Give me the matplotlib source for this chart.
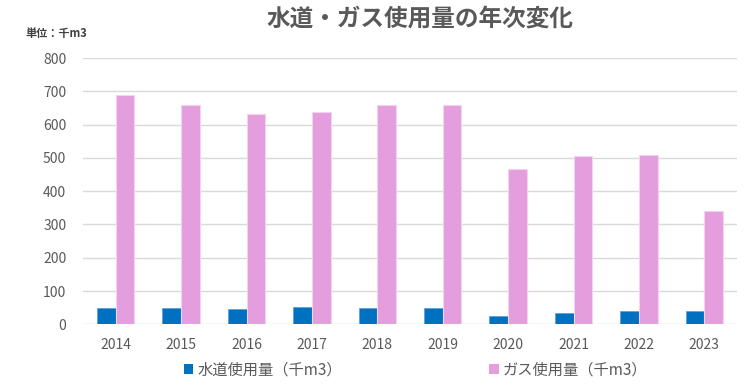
import matplotlib
matplotlib.use("Agg")
import matplotlib.pyplot as plt
import numpy as np

plt.rcParams['font.family'] = ['Noto Sans CJK JP', 'DejaVu Sans']

years = ["2014", "2015", "2016", "2017", "2018", "2019", "2020", "2021", "2022", "2023"]
water = [49, 49, 46, 52, 49, 49, 26, 34, 40, 40]
gas = [689, 660, 632, 637, 658, 658, 466, 506, 509, 340]
series_names = ["水道使用量（千m3）", "ガス使用量（千m3）"]
yticks = [0, 100, 200, 300, 400, 500, 600, 700, 800]

fig = plt.figure(figsize=(7.52, 3.91), dpi=100)
ax = fig.add_axes([83/752, 1-324.3/391, (737-83)/752, (324.3-58)/391])

x = np.arange(len(years))
w = 0.285
c_water = "#0070C0"
c_gas = "#E49EDD"
ax.bar(x - w/2, water, width=w, color=c_water, edgecolor="#5b9bd5", linewidth=0.5, zorder=3)
ax.bar(x + w/2, gas, width=w, color=c_gas, edgecolor="#f3d3ef", linewidth=0.8, zorder=3)

ax.set_xlim(-0.5, len(years) - 0.5)
ax.set_ylim(0, 800)
ax.set_yticks(yticks)
ax.set_yticklabels([str(v) for v in yticks])
ax.set_xticks(x)
ax.set_xticklabels(years)
ax.grid(axis='y', color="#d9d9d9", linewidth=1.0, zorder=0)
for s in ax.spines.values():
    s.set_visible(False)
ax.tick_params(axis='both', length=0, labelsize=10, colors="#595959")
ax.tick_params(axis='y', pad=12)
ax.tick_params(axis='x', pad=10)

fig.text(420/752, 1-20/391, "水道・ガス使用量の年次変化", ha='center', va='center',
         fontsize=17, fontweight='bold', color="#595959")
fig.text(25/752, 1-33/391, "単位：千m3", ha='left', va='center', fontsize=8,
         fontweight='bold', color="#404040")

# legend
from matplotlib.patches import Patch
handles = [Patch(facecolor=c_water), Patch(facecolor=c_gas)]
leg = fig.legend(handles, series_names, loc='center', bbox_to_anchor=(416/752, 1-370/391),
                 ncol=2, frameon=False, fontsize=11, handlelength=0.6, handleheight=0.6,
                 handletextpad=0.3, columnspacing=9.6)
for t in leg.get_texts():
    t.set_color("#595959")

fig.savefig("out.png", dpi=100)
